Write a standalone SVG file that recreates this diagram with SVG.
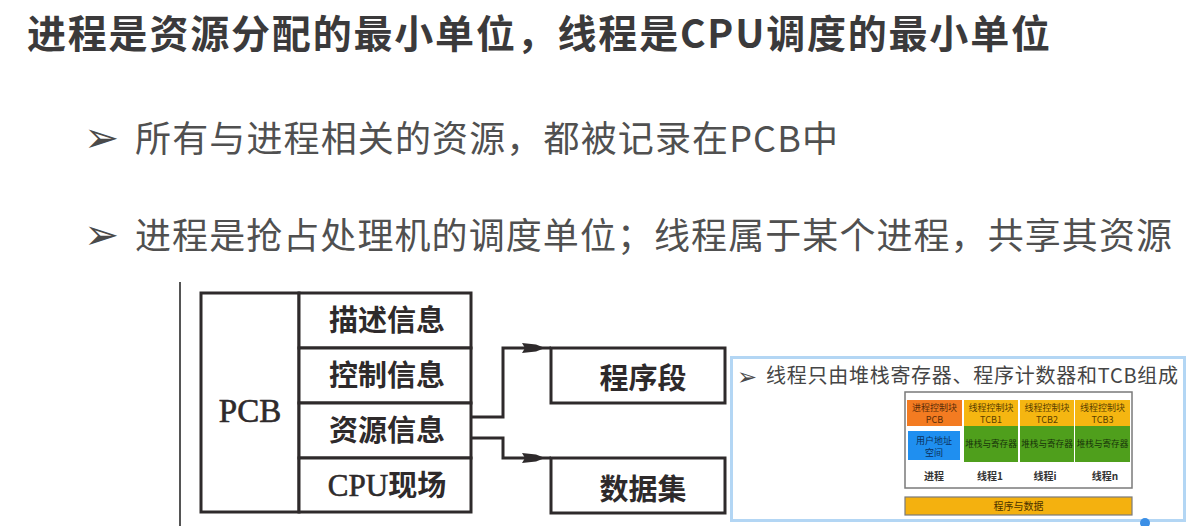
<svg xmlns="http://www.w3.org/2000/svg" width="1187" height="526" viewBox="0 0 1187 526">
  <defs>
    <style>
      .title { font-family: "Noto Sans CJK SC", "Noto Sans", sans-serif; font-weight: 700; font-size: 39px; fill: #3b3a3b; }
      .bullet { font-family: "Noto Sans CJK SC", "Noto Sans", sans-serif; font-size: 36px; fill: #505050; }
      .mark { font-family: "DejaVu Sans", sans-serif; fill: #4a4a4a; }
      .box { fill: #ffffff; stroke: #2e2a2b; stroke-width: 3; }
      .lbl { font-family: "Noto Sans CJK SC", sans-serif; font-weight: 700; font-size: 29px; fill: #2e2a2b; text-anchor: middle; }
      .serif { font-family: "Liberation Serif", "Noto Sans CJK SC", serif; font-weight: 400; stroke: #2e2a2b; stroke-width: 0.6; }
      .conn { fill: none; stroke: #2e2a2b; stroke-width: 3; }
      .small { font-family: "Noto Sans CJK SC", sans-serif; font-size: 9px; text-anchor: middle; }
      .cap { font-family: "Noto Sans CJK SC", sans-serif; font-size: 10px; font-weight: 700; fill: #333; text-anchor: middle; }
    </style>
    <marker id="arrow" markerUnits="userSpaceOnUse" markerWidth="30" markerHeight="12" refX="29" refY="6" orient="auto" viewBox="0 0 30 12">
      <path d="M0,1 L14,2.5 L23,6 L14,9.5 L0,11 L3,6 z" fill="#2e2a2b"/>
    </marker>
  </defs>

  <rect width="1187" height="526" fill="#ffffff"/>

  <!-- heading and bullet points -->
  <text class="title" x="27" y="48" textLength="1023" lengthAdjust="spacing">进程是资源分配的最小单位，线程是CPU调度的最小单位</text>
  <text class="mark" x="84" y="152" font-size="42">➢</text>
  <text class="bullet" x="135" y="152" textLength="703" lengthAdjust="spacing">所有与进程相关的资源，都被记录在PCB中</text>
  <text class="mark" x="84" y="249" font-size="42">➢</text>
  <text class="bullet" x="135" y="249" textLength="1037" lengthAdjust="spacing">进程是抢占处理机的调度单位；线程属于某个进程，共享其资源</text>

  <!-- PCB structure -->
  <line x1="180" y1="282" x2="180" y2="526" stroke="#555" stroke-width="2"/>

  <g id="pcb">
    <rect class="box" x="201" y="293" width="98" height="219"/>
    <text class="lbl serif" x="250" y="422" style="font-size:33px">PCB</text>
  </g>
  <g id="desc-info">
    <rect class="box" x="299" y="293" width="172" height="55"/>
    <text class="lbl" x="387" y="331">描述信息</text>
  </g>
  <g id="ctrl-info">
    <rect class="box" x="299" y="348" width="172" height="55"/>
    <text class="lbl" x="387" y="386">控制信息</text>
  </g>
  <g id="res-info">
    <rect class="box" x="299" y="403" width="172" height="55"/>
    <text class="lbl" x="387" y="441">资源信息</text>
  </g>
  <g id="cpu-state">
    <rect class="box" x="299" y="458" width="172" height="54"/>
    <text class="lbl" x="387" y="496"><tspan class="serif" style="font-size:31px">CPU</tspan>现场</text>
  </g>
  <g id="code-seg">
    <rect class="box" x="551" y="348" width="174" height="55"/>
    <text class="lbl" x="643" y="389">程序段</text>
  </g>
  <g id="data-set">
    <rect class="box" x="551" y="458" width="174" height="55"/>
    <text class="lbl" x="643" y="500">数据集</text>
  </g>

  <g id="connectors">
    <path class="conn" d="M471,417 H503 V348 H551" marker-end="url(#arrow)"/>
    <path class="conn" d="M471,438 H503 V458 H551" marker-end="url(#arrow)"/>
  </g>

  <!-- thread model panel -->
  <g id="thread-panel">
    <rect x="731.5" y="357.5" width="453" height="163" fill="#ffffff" stroke="#b3d6f4" stroke-width="3"/>
    <text class="mark" x="737" y="385" font-size="24">➢</text>
    <text x="766" y="383" font-family="Noto Sans CJK SC, sans-serif" font-size="20" fill="#454545" textLength="412" lengthAdjust="spacing">线程只由堆栈寄存器、程序计数器和TCB组成</text>

    <rect x="905" y="392" width="227" height="96" fill="#ffffff" stroke="#7a7a7a" stroke-width="1.5"/>

    <g id="proc-pcb">
      <rect x="907" y="400" width="55" height="26" fill="#f37b21"/>
      <text class="small" x="934.5" y="411" fill="#5a2c08">进程控制块</text>
      <text class="small" x="934.5" y="423" fill="#5a2c08">PCB</text>
    </g>
    <g id="proc-space">
      <rect x="908" y="431" width="52" height="29" fill="#1f8ff0"/>
      <text class="small" x="934" y="444" fill="#0b2f5a">用户地址</text>
      <text class="small" x="934" y="456" fill="#0b2f5a">空间</text>
    </g>
    <g id="tcb1">
      <rect x="964" y="400" width="54" height="26" fill="#f5b611"/>
      <rect x="964" y="426" width="54" height="36" fill="#4f9f1c"/>
      <text class="small" x="991" y="411" fill="#5b3f00">线程控制块</text>
      <text class="small" x="991" y="423" fill="#5b3f00">TCB1</text>
      <text class="small" x="991" y="447" fill="#17330a" style="font-size:8.6px">堆栈与寄存器</text>
    </g>
    <g id="tcb2">
      <rect x="1020" y="400" width="54" height="26" fill="#f5b611"/>
      <rect x="1020" y="426" width="54" height="36" fill="#4f9f1c"/>
      <text class="small" x="1047" y="411" fill="#5b3f00">线程控制块</text>
      <text class="small" x="1047" y="423" fill="#5b3f00">TCB2</text>
      <text class="small" x="1047" y="447" fill="#17330a" style="font-size:8.6px">堆栈与寄存器</text>
    </g>
    <g id="tcb3">
      <rect x="1075" y="400" width="55" height="26" fill="#f5b611"/>
      <rect x="1075" y="426" width="55" height="36" fill="#4f9f1c"/>
      <text class="small" x="1102.5" y="411" fill="#5b3f00">线程控制块</text>
      <text class="small" x="1102.5" y="423" fill="#5b3f00">TCB3</text>
      <text class="small" x="1102.5" y="447" fill="#17330a" style="font-size:8.6px">堆栈与寄存器</text>
    </g>

    <text class="cap" x="934" y="480">进程</text>
    <text class="cap" x="990" y="480">线程1</text>
    <text class="cap" x="1045" y="480">线程i</text>
    <text class="cap" x="1105" y="480">线程n</text>

    <g id="prog-data">
      <rect x="905" y="497" width="227" height="18" fill="#f4b10f" stroke="#7a7a7a" stroke-width="1.2"/>
      <text class="small" x="1018.5" y="510" fill="#4a3300" style="font-size:10px">程序与数据</text>
    </g>
  </g>

  <circle cx="1145" cy="523" r="5" fill="#3b8fe6"/>
</svg>
